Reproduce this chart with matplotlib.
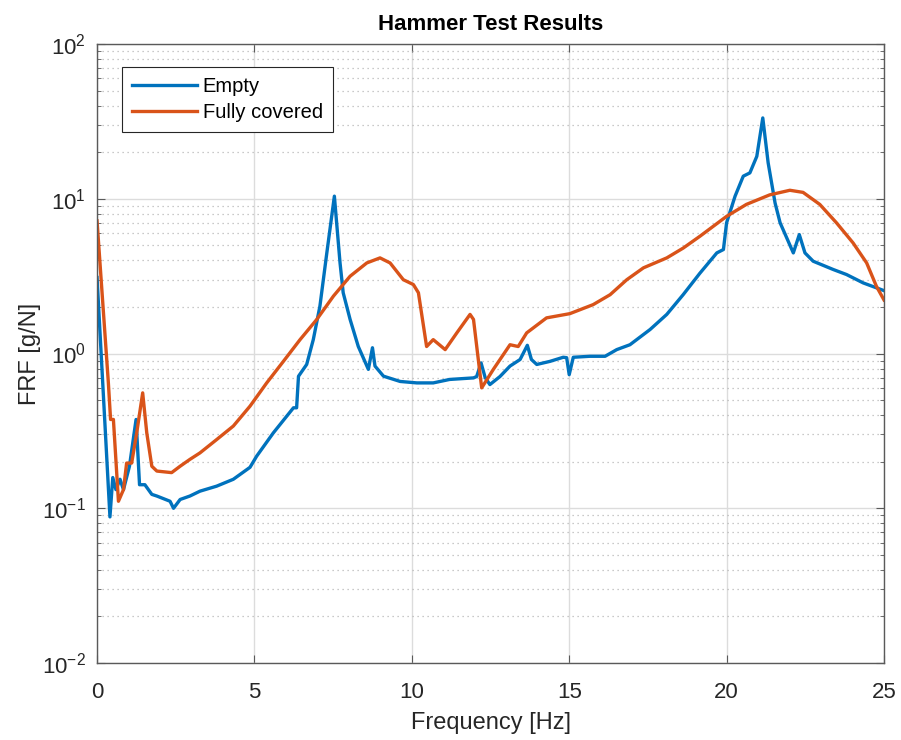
import matplotlib

matplotlib.use("Agg")

import matplotlib.pyplot as plt
from matplotlib.ticker import LogLocator, NullFormatter

plt.rcParams["font.family"] = ["Liberation Sans", "DejaVu Sans"]

# Empty (blue) trace
freq_empty = [0.0, 0.41, 0.5, 0.6, 0.73, 0.84, 1.03, 1.24, 1.35, 1.52, 1.74, 1.9,
              2.32, 2.43, 2.64, 2.95, 3.27, 3.8, 4.33, 4.86, 5.07, 5.6, 6.24, 6.34,
              6.4, 6.66, 6.87, 7.08, 7.3, 7.54, 7.72, 7.82, 8.04, 8.3, 8.62, 8.75,
              8.83, 9.1, 9.63, 10.16, 10.68, 11.2, 11.96, 12.06, 12.2, 12.33, 12.48,
              12.8, 13.12, 13.44, 13.67, 13.8, 13.97, 14.39, 14.81, 14.92, 15.0,
              15.13, 15.66, 16.14, 16.51, 16.93, 17.57, 18.1, 18.62, 19.15, 19.69,
              19.9, 20.0, 20.27, 20.53, 20.74, 20.96, 21.15, 21.32, 21.54, 21.7,
              22.12, 22.31, 22.49, 22.75, 23.39, 23.81, 24.34, 25.0]
frf_empty = [3.1, 0.088, 0.158, 0.132, 0.154, 0.132, 0.187, 0.375, 0.142, 0.142,
             0.123, 0.12, 0.111, 0.1, 0.114, 0.12, 0.129, 0.139, 0.154, 0.184,
             0.217, 0.307, 0.446, 0.446, 0.713, 0.85, 1.23, 2.02, 4.47, 10.4, 3.85,
             2.47, 1.66, 1.11, 0.79, 1.09, 0.83, 0.714, 0.66, 0.646, 0.646, 0.68,
             0.696, 0.71, 0.87, 0.7, 0.63, 0.71, 0.83, 0.915, 1.13, 0.915, 0.85,
             0.89, 0.946, 0.94, 0.73, 0.946, 0.96, 0.96, 1.06, 1.14, 1.43, 1.79,
             2.4, 3.3, 4.47, 4.7, 7.0, 10.4, 14.0, 14.7, 18.8, 33.3, 17.1, 9.4, 7.0,
             4.47, 5.87, 4.47, 3.95, 3.49, 3.24, 2.86, 2.55]

# Fully covered (orange) trace
freq_full = [0.0, 0.36, 0.43, 0.52, 0.68, 0.84, 0.94, 1.1, 1.26, 1.45, 1.58, 1.74,
             1.9, 2.37, 2.64, 2.95, 3.27, 3.8, 4.33, 4.86, 5.39, 5.92, 6.45, 6.98,
             7.51, 8.04, 8.57, 8.99, 9.31, 9.73, 10.05, 10.21, 10.47, 10.68, 11.06,
             11.43, 11.85, 11.96, 12.22, 12.59, 13.12, 13.38, 13.65, 14.28, 15.02,
             15.76, 16.3, 16.83, 17.36, 18.1, 18.62, 19.15, 20.0, 20.63, 21.37,
             22.01, 22.43, 22.96, 23.49, 24.02, 24.45, 24.76, 25.0]
frf_full = [7.2, 0.646, 0.375, 0.375, 0.111, 0.132, 0.196, 0.196, 0.307, 0.557,
            0.307, 0.187, 0.174, 0.17, 0.187, 0.207, 0.228, 0.278, 0.34, 0.457,
            0.646, 0.89, 1.23, 1.66, 2.35, 3.16, 3.85, 4.15, 3.85, 3.0, 2.79, 2.47,
            1.11, 1.23, 1.06, 1.36, 1.79, 1.66, 0.6, 0.79, 1.14, 1.11, 1.36, 1.7,
            1.81, 2.07, 2.4, 3.0, 3.58, 4.15, 4.8, 5.72, 7.7, 9.2, 10.6, 11.35, 11.0,
            9.2, 7.0, 5.18, 3.85, 2.72, 2.22]

labels = ["Empty", "Fully covered"]
x_ticks = [0, 5, 10, 15, 20, 25]

fig = plt.figure(figsize=(9.01, 7.40), dpi=100)
ax = fig.add_axes([0.1077, 0.104, 0.8734, 0.8365])

ax.plot(freq_empty, frf_empty, color="#0072BD", linewidth=2.4, label=labels[0])
ax.plot(freq_full, frf_full, color="#D95319", linewidth=2.4, label=labels[1])

ax.set_yscale("log")
ax.set_xlim(0, 25)
ax.set_ylim(1e-2, 1e2)
ax.set_xticks(x_ticks)
ax.yaxis.set_major_locator(LogLocator(base=10, numticks=10))
ax.yaxis.set_minor_locator(LogLocator(base=10, subs=range(2, 10), numticks=20))
ax.yaxis.set_minor_formatter(NullFormatter())

ax.grid(True, which="major", color="#dcdcdc", linewidth=1.0)
ax.grid(True, which="minor", axis="y", color="#b8b8b8", linestyle=(0, (1, 3)),
        linewidth=0.9)
ax.set_axisbelow(True)

for sp in ax.spines.values():
    sp.set_color("#5a5a5a")
    sp.set_linewidth(1.0)
ax.tick_params(which="both", direction="in", top=True, right=True,
               colors="#5a5a5a", labelcolor="#262626", labelsize=16)
ax.tick_params(which="major", length=6)
ax.tick_params(which="minor", length=3)
ax.tick_params(axis="x", pad=14)
ax.tick_params(axis="y", pad=8)

ax.set_xlabel("Frequency [Hz]", fontsize=17, color="#262626", labelpad=6)
ax.set_ylabel("FRF [g/N]", fontsize=17, color="#262626", labelpad=1)
ax.set_title("Hammer Test Results", fontsize=16, fontweight="bold", pad=10)

leg = ax.legend(loc="upper left", bbox_to_anchor=(0.032, 0.963), fontsize=14.5,
                fancybox=False, framealpha=1.0, edgecolor="#262626",
                handlelength=3.2, borderpad=0.5, labelspacing=0.35,
                handletextpad=0.3, borderaxespad=0.0)
leg.get_frame().set_linewidth(0.8)

fig.savefig("out.png", dpi=100)
